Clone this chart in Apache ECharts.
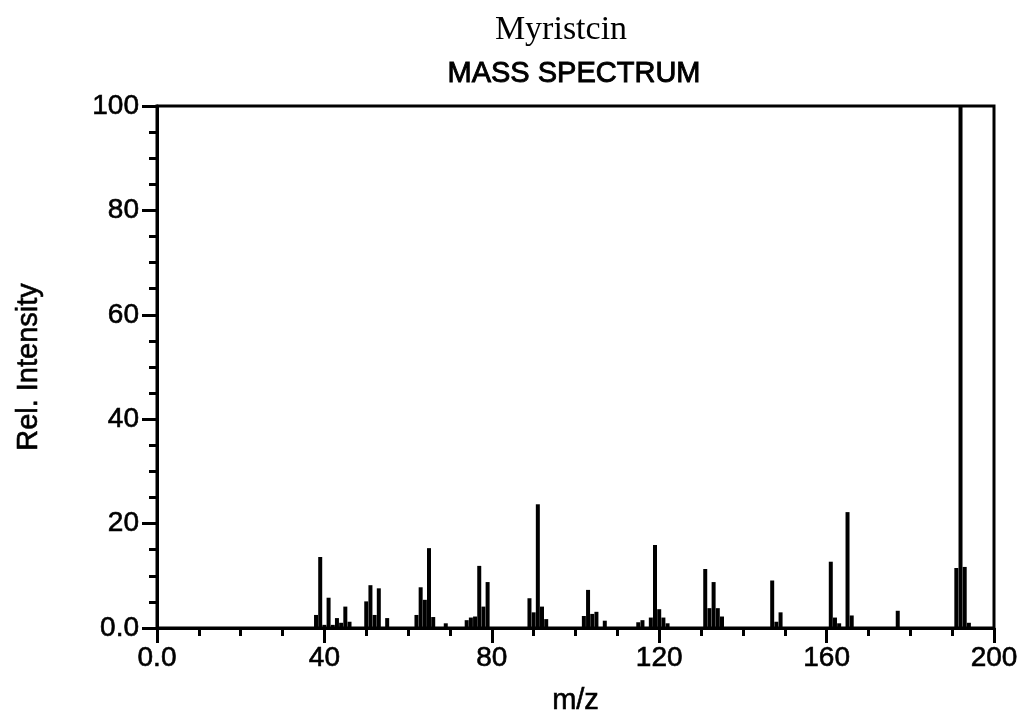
<!DOCTYPE html>
<html>
<head>
<meta charset="utf-8">
<script src="https://cdn.jsdelivr.net/npm/echarts@6/dist/echarts.min.js"></script>
<style>
  html, body { margin: 0; padding: 0; background: #fff; }
  #main { width: 1022px; height: 716px; }
</style>
</head>
<body>
<div id="main"></div>
<script>
// m/z values and relative intensities
var mzValues = [38, 39, 40, 41, 42, 43, 44, 45, 46,
  50, 51, 52, 53, 55,
  62, 63, 64, 65, 66, 69,
  74, 75, 76, 77, 78, 79,
  89, 90, 91, 92, 93,
  102, 103, 104, 105, 107,
  115, 116, 118, 119, 120, 121, 122,
  131, 132, 133, 134, 135,
  147, 148, 149,
  161, 162, 163, 165, 166,
  177,
  191, 192, 193, 194];
var intensities = [2.5, 13.6, 0.6, 5.8, 0.6, 1.9, 1.0, 4.1, 1.2,
  5.1, 8.2, 2.5, 7.6, 1.9,
  2.5, 7.8, 5.4, 15.3, 2.1, 0.9,
  1.5, 2.0, 2.2, 11.9, 4.1, 8.8,
  5.7, 3.0, 23.7, 4.1, 1.7,
  2.3, 7.3, 2.7, 3.1, 1.4,
  1.1, 1.5, 2.0, 15.9, 3.6, 2.0, 0.9,
  11.3, 3.8, 8.8, 3.8, 2.2,
  9.1, 1.2, 3.0,
  12.7, 2.0, 0.9, 22.2, 2.4,
  3.3,
  11.5, 100, 11.7, 1.0];

var peaks = mzValues.map(function (m, i) { return [m, intensities[i]]; });

var sans = '"Liberation Sans", Arial, sans-serif';
var chart = echarts.init(document.getElementById('main'));

// slight outline to make the text as heavy as the scanned original
var heavy = { textBorderColor: '#000', textBorderWidth: 0.6 };

var option = {
  animation: false,
  backgroundColor: '#fff',
  graphic: [
    {
      type: 'text', x: 561, y: 30,
      style: { text: 'Myristcin', font: '34px "Liberation Serif", "Times New Roman", serif',
        fill: '#000', textAlign: 'center', textVerticalAlign: 'middle' }
    },
    {
      type: 'text', x: 574, y: 74,
      style: { text: 'MASS SPECTRUM', font: '29px ' + sans,
        fill: '#000', stroke: '#000', lineWidth: 0.9,
        textAlign: 'center', textVerticalAlign: 'middle' }
    }
  ],
  grid: {
    left: 157, right: 28, top: 106, bottom: 88,
    outerBoundsMode: 'none',
    show: true, borderColor: '#000', borderWidth: 3
  },
  xAxis: {
    type: 'value', min: 0, max: 200, interval: 40,
    name: 'm/z', nameLocation: 'middle', nameGap: 58,
    nameTextStyle: Object.assign({ fontSize: 29, color: '#000', fontFamily: sans }, heavy),
    axisLine: { lineStyle: { color: '#000', width: 3 } },
    axisTick: { length: 15, lineStyle: { color: '#000', width: 3 } },
    minorTick: { show: true, splitNumber: 4, length: 8, lineStyle: { color: '#000', width: 3 } },
    splitLine: { show: false },
    axisLabel: Object.assign({
      fontSize: 28, color: '#000', fontFamily: sans, margin: 16,
      formatter: function (v) { return v === 0 ? '0.0' : v; }
    }, heavy)
  },
  yAxis: {
    type: 'value', min: 0, max: 100, interval: 20,
    name: 'Rel. Intensity', nameLocation: 'middle', nameGap: 114,
    nameTextStyle: Object.assign({ fontSize: 29, color: '#000', fontFamily: sans }, heavy),
    axisLine: { show: true, lineStyle: { color: '#000', width: 3 } },
    axisTick: { show: true, length: 15, lineStyle: { color: '#000', width: 3 } },
    minorTick: { show: true, splitNumber: 4, length: 8, lineStyle: { color: '#000', width: 3 } },
    splitLine: { show: false },
    axisLabel: Object.assign({
      fontSize: 28, color: '#000', fontFamily: sans, margin: 18,
      formatter: function (v) { return v === 0 ? '0.0' : v; }
    }, heavy)
  },
  series: [{
    type: 'bar',
    data: peaks,
    barWidth: 4,
    itemStyle: { color: '#000' }
  }]
};

chart.setOption(option);
</script>
</body>
</html>
